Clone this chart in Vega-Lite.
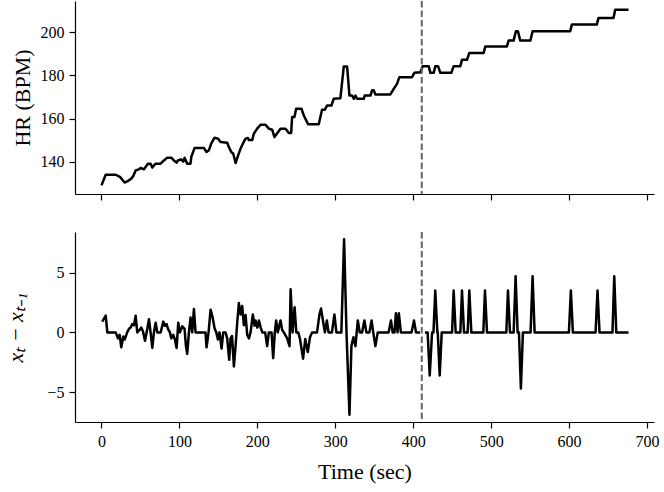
{
  "$schema": "https://vega.github.io/schema/vega-lite/v6.json",
  "padding": {"left": 4, "top": 0, "right": 4, "bottom": 5},
  "bounds": "flush",
  "spacing": 38,
  "config": {
    "font": "Liberation Serif",
    "view": {"stroke": null},
    "axis": {
      "grid": false,
      "domainColor": "black",
      "domainWidth": 1.2,
      "tickColor": "black",
      "tickWidth": 1.2,
      "tickSize": 6,
      "labelPadding": 5,
      "labelFont": "Liberation Serif",
      "labelFontSize": 16,
      "labelColor": "black",
      "titleFont": "Liberation Serif",
      "titleFontSize": 22,
      "titleFontWeight": "normal",
      "titleColor": "black"
    }
  },
  "datasets": {
    "hr": [
      {"t": 0, "hr": 129.2}, {"t": 5.4, "hr": 134.1}, {"t": 18.2, "hr": 134.1}, {"t": 23.7, "hr": 133.1},
      {"t": 29.7, "hr": 130.5}, {"t": 33, "hr": 131}, {"t": 38.2, "hr": 132.3}, {"t": 40.8, "hr": 133.5},
      {"t": 43.8, "hr": 136.1}, {"t": 48, "hr": 136.6}, {"t": 50.2, "hr": 137.2}, {"t": 54.5, "hr": 136.6},
      {"t": 59.6, "hr": 139.2}, {"t": 63, "hr": 139.2}, {"t": 65.2, "hr": 137.4}, {"t": 67.3, "hr": 138.4},
      {"t": 69.5, "hr": 139.2}, {"t": 75.9, "hr": 139.2}, {"t": 80.1, "hr": 140.7}, {"t": 84.4, "hr": 142.0},
      {"t": 89.5, "hr": 142.0}, {"t": 92.9, "hr": 140.7}, {"t": 96.4, "hr": 139.7}, {"t": 98, "hr": 140.7},
      {"t": 102.3, "hr": 141.2}, {"t": 104.9, "hr": 140.2}, {"t": 106.6, "hr": 141.9}, {"t": 110, "hr": 139.2},
      {"t": 114.3, "hr": 139.2}, {"t": 115.2, "hr": 142.3}, {"t": 119.5, "hr": 146.5}, {"t": 131.4, "hr": 146.5},
      {"t": 134.8, "hr": 144.6}, {"t": 137.8, "hr": 145.4}, {"t": 140.8, "hr": 148.5}, {"t": 145.1, "hr": 151.2},
      {"t": 149.4, "hr": 150.8}, {"t": 152.8, "hr": 149.2}, {"t": 161.3, "hr": 148.9}, {"t": 163.5, "hr": 146.9},
      {"t": 166.5, "hr": 144.6}, {"t": 169.1, "hr": 143.8}, {"t": 172.1, "hr": 139.5}, {"t": 175.1, "hr": 142.8},
      {"t": 178.5, "hr": 146.2}, {"t": 181.9, "hr": 148.8}, {"t": 184.9, "hr": 150.8}, {"t": 187.9, "hr": 151.1},
      {"t": 189.2, "hr": 150.1}, {"t": 193.4, "hr": 150.1}, {"t": 195.5, "hr": 153.1}, {"t": 199.8, "hr": 155.4},
      {"t": 204.1, "hr": 157.2}, {"t": 210.5, "hr": 157.2}, {"t": 214.7, "hr": 155.4}, {"t": 219, "hr": 154.9},
      {"t": 222, "hr": 151.5}, {"t": 225, "hr": 153}, {"t": 229.7, "hr": 155.4}, {"t": 236.2, "hr": 155.4},
      {"t": 240.4, "hr": 153.4}, {"t": 243.4, "hr": 153.4}, {"t": 244.6, "hr": 160.8}, {"t": 247.6, "hr": 160.8},
      {"t": 249.8, "hr": 164.6}, {"t": 256.6, "hr": 164.6}, {"t": 259.6, "hr": 161.5}, {"t": 265.2, "hr": 157.4},
      {"t": 278.8, "hr": 157.4}, {"t": 283, "hr": 164.1}, {"t": 286.5, "hr": 164.1}, {"t": 289.5, "hr": 166.1},
      {"t": 295, "hr": 166.1}, {"t": 298, "hr": 169.2}, {"t": 306.6, "hr": 169.5}, {"t": 310.9, "hr": 184.1},
      {"t": 315.2, "hr": 184.1}, {"t": 318.2, "hr": 170.7}, {"t": 321.6, "hr": 170.7}, {"t": 323.7, "hr": 169.2},
      {"t": 325.9, "hr": 170.7}, {"t": 328, "hr": 169.2}, {"t": 336.5, "hr": 169.2}, {"t": 337.8, "hr": 170.7},
      {"t": 345.1, "hr": 170.7}, {"t": 347.2, "hr": 173.1}, {"t": 349.4, "hr": 173.1}, {"t": 351.5, "hr": 171.2},
      {"t": 370.7, "hr": 171.2}, {"t": 375, "hr": 173.8}, {"t": 379.2, "hr": 176.1}, {"t": 382.3, "hr": 179.2},
      {"t": 398.5, "hr": 179.2}, {"t": 401.5, "hr": 181.2}, {"t": 409.2, "hr": 181.5}, {"t": 412.2, "hr": 184.3},
      {"t": 419.9, "hr": 184.3}, {"t": 422, "hr": 181.2}, {"t": 426.3, "hr": 181.2}, {"t": 428.4, "hr": 184.3},
      {"t": 431.9, "hr": 184.3}, {"t": 434.8, "hr": 181.2}, {"t": 448.9, "hr": 181.2}, {"t": 451.9, "hr": 184.3},
      {"t": 460.5, "hr": 184.3}, {"t": 462.6, "hr": 187.2}, {"t": 469, "hr": 187.2}, {"t": 472, "hr": 190.4},
      {"t": 490.4, "hr": 190.4}, {"t": 492.5, "hr": 193.4}, {"t": 520.3, "hr": 193.4}, {"t": 522.4, "hr": 196.1},
      {"t": 528.8, "hr": 196.1}, {"t": 531.8, "hr": 200.4}, {"t": 534.4, "hr": 200.4}, {"t": 537.4, "hr": 196.1},
      {"t": 550.3, "hr": 196.1}, {"t": 553.2, "hr": 200.4}, {"t": 601.5, "hr": 200.4}, {"t": 603.6, "hr": 203.5},
      {"t": 635.6, "hr": 203.5}, {"t": 637.8, "hr": 206.6}, {"t": 657, "hr": 206.6}, {"t": 659.2, "hr": 210.3},
      {"t": 676.3, "hr": 210.3}
    ],
    "diff": [
      {"t": 1, "d": 0.9, "seg": 1}, {"t": 5.4, "d": 1.4, "seg": 1}, {"t": 7.5, "d": 0, "seg": 1}, {"t": 18.2, "d": 0, "seg": 1},
      {"t": 21.2, "d": -0.5, "seg": 1}, {"t": 23.3, "d": -0.2, "seg": 1}, {"t": 25.4, "d": -1.25, "seg": 1}, {"t": 28, "d": -0.35, "seg": 1},
      {"t": 29.7, "d": -0.6, "seg": 1}, {"t": 33, "d": 0, "seg": 1}, {"t": 35.3, "d": 0.3, "seg": 1}, {"t": 37.4, "d": 0.4, "seg": 1},
      {"t": 39.5, "d": 0.7, "seg": 1}, {"t": 41.7, "d": 0.6, "seg": 1}, {"t": 43.8, "d": 1.4, "seg": 1}, {"t": 45.9, "d": 0, "seg": 1},
      {"t": 48.9, "d": 0.2, "seg": 1}, {"t": 51, "d": 0.4, "seg": 1}, {"t": 53.2, "d": 0.1, "seg": 1}, {"t": 55.8, "d": -0.7, "seg": 1},
      {"t": 58.8, "d": 0.3, "seg": 1}, {"t": 60.9, "d": 1.1, "seg": 1}, {"t": 63, "d": 0, "seg": 1}, {"t": 65.2, "d": -1.3, "seg": 1},
      {"t": 67.3, "d": 0, "seg": 1}, {"t": 69.5, "d": 0.8, "seg": 1}, {"t": 71.6, "d": 0, "seg": 1}, {"t": 75.9, "d": 0, "seg": 1},
      {"t": 79.3, "d": 0.9, "seg": 1}, {"t": 81.4, "d": 0.55, "seg": 1}, {"t": 83.5, "d": 0.7, "seg": 1}, {"t": 85.3, "d": 0.3, "seg": 1},
      {"t": 87.8, "d": 0, "seg": 1}, {"t": 89.5, "d": -0.5, "seg": 1}, {"t": 92, "d": -0.2, "seg": 1}, {"t": 94.2, "d": -0.6, "seg": 1},
      {"t": 96.4, "d": -1.3, "seg": 1}, {"t": 98.5, "d": 0.8, "seg": 1}, {"t": 100.6, "d": 0, "seg": 1}, {"t": 103.6, "d": 0.5, "seg": 1},
      {"t": 106.6, "d": 0.3, "seg": 1}, {"t": 108.3, "d": -1.1, "seg": 1}, {"t": 110, "d": -1.8, "seg": 1}, {"t": 112.2, "d": 0, "seg": 1},
      {"t": 114.3, "d": 1.25, "seg": 1}, {"t": 116.4, "d": 0, "seg": 1}, {"t": 118.6, "d": 1.95, "seg": 1}, {"t": 120.7, "d": 0, "seg": 1},
      {"t": 133.5, "d": 0, "seg": 1}, {"t": 134.8, "d": -1.25, "seg": 1}, {"t": 137.4, "d": 0, "seg": 1}, {"t": 140, "d": 1.9, "seg": 1},
      {"t": 142.6, "d": 1.25, "seg": 1}, {"t": 145.1, "d": 0.35, "seg": 1}, {"t": 147.3, "d": 0, "seg": 1}, {"t": 149.4, "d": -0.6, "seg": 1},
      {"t": 151.5, "d": 0, "seg": 1}, {"t": 154.1, "d": -1.35, "seg": 1}, {"t": 156.2, "d": 0, "seg": 1}, {"t": 159.2, "d": 0, "seg": 1},
      {"t": 161.3, "d": -0.5, "seg": 1}, {"t": 163.9, "d": -2.3, "seg": 1}, {"t": 165.6, "d": -0.5, "seg": 1}, {"t": 167.5, "d": -0.3, "seg": 1},
      {"t": 169.9, "d": -2.85, "seg": 1}, {"t": 172.1, "d": -1.1, "seg": 1}, {"t": 174.2, "d": 0.85, "seg": 1}, {"t": 176.3, "d": 2.45, "seg": 1},
      {"t": 178.5, "d": 1.5, "seg": 1}, {"t": 180.6, "d": 2.2, "seg": 1}, {"t": 182.7, "d": 0.6, "seg": 1}, {"t": 184.9, "d": 1.45, "seg": 1},
      {"t": 187, "d": -0.2, "seg": 1}, {"t": 189.2, "d": -0.5, "seg": 1}, {"t": 191.3, "d": 0, "seg": 1}, {"t": 194.2, "d": 1.5, "seg": 1},
      {"t": 196.4, "d": 0.55, "seg": 1}, {"t": 197.8, "d": 1.0, "seg": 1}, {"t": 200, "d": 0.4, "seg": 1}, {"t": 202.1, "d": 1.0, "seg": 1},
      {"t": 204.3, "d": 0.4, "seg": 1}, {"t": 206.4, "d": 0, "seg": 1}, {"t": 210, "d": 0, "seg": 1}, {"t": 212.6, "d": -1.15, "seg": 1},
      {"t": 214.7, "d": 0, "seg": 1}, {"t": 218.2, "d": 0, "seg": 1}, {"t": 220.3, "d": -2.15, "seg": 1}, {"t": 222.4, "d": 0, "seg": 1},
      {"t": 224.1, "d": 1.0, "seg": 1}, {"t": 226.2, "d": 0, "seg": 1}, {"t": 229.7, "d": 1.0, "seg": 1}, {"t": 231.9, "d": 0.2, "seg": 1},
      {"t": 234, "d": 0, "seg": 1}, {"t": 238.3, "d": -0.5, "seg": 1}, {"t": 241.3, "d": -1.15, "seg": 1}, {"t": 242.7, "d": 3.6, "seg": 1},
      {"t": 245.2, "d": 0, "seg": 1}, {"t": 247.8, "d": 2.1, "seg": 1}, {"t": 250, "d": 0, "seg": 1}, {"t": 252.5, "d": 0, "seg": 1},
      {"t": 254.7, "d": -0.55, "seg": 1}, {"t": 258.7, "d": -2.2, "seg": 1}, {"t": 261.5, "d": -0.55, "seg": 1}, {"t": 264.7, "d": -1.65, "seg": 1},
      {"t": 267.6, "d": -0.4, "seg": 1}, {"t": 270.2, "d": 0, "seg": 1}, {"t": 276.6, "d": 0, "seg": 1}, {"t": 279.7, "d": 1.5, "seg": 1},
      {"t": 281.7, "d": 2.0, "seg": 1}, {"t": 284.5, "d": 0.85, "seg": 1}, {"t": 286.7, "d": 0, "seg": 1}, {"t": 289.2, "d": 1.0, "seg": 1},
      {"t": 291.4, "d": 0, "seg": 1}, {"t": 295.7, "d": 0, "seg": 1}, {"t": 298.9, "d": 1.5, "seg": 1}, {"t": 301.4, "d": 0, "seg": 1},
      {"t": 307.8, "d": 0, "seg": 1}, {"t": 311.3, "d": 7.8, "seg": 1}, {"t": 314.4, "d": 0, "seg": 1}, {"t": 318.2, "d": -6.9, "seg": 1},
      {"t": 320.7, "d": -1.15, "seg": 1}, {"t": 323.3, "d": -0.4, "seg": 1}, {"t": 325.9, "d": -1.15, "seg": 1}, {"t": 328.9, "d": 1.0, "seg": 1},
      {"t": 331.4, "d": 0, "seg": 1}, {"t": 334.4, "d": 0, "seg": 1}, {"t": 337.4, "d": 1.0, "seg": 1}, {"t": 339.9, "d": 0, "seg": 1},
      {"t": 343.8, "d": 0, "seg": 1}, {"t": 346.6, "d": 1.0, "seg": 1}, {"t": 348.7, "d": 0, "seg": 1}, {"t": 351.5, "d": -1.15, "seg": 1},
      {"t": 354.5, "d": 0, "seg": 1}, {"t": 368.4, "d": 0, "seg": 1}, {"t": 371.5, "d": 1.0, "seg": 1}, {"t": 373.6, "d": 0, "seg": 1},
      {"t": 376, "d": 0, "seg": 1}, {"t": 377.8, "d": 1.6, "seg": 1}, {"t": 379.9, "d": 0, "seg": 1}, {"t": 381.6, "d": 1.6, "seg": 1},
      {"t": 384.2, "d": 0, "seg": 1}, {"t": 397.9, "d": 0, "seg": 1}, {"t": 401, "d": 1.0, "seg": 1}, {"t": 403.6, "d": 0, "seg": 1},
      {"t": 408.7, "d": 0, "seg": 1},
      {"t": 415, "d": 0, "seg": 2}, {"t": 418.5, "d": 0, "seg": 2}, {"t": 421.2, "d": -3.6, "seg": 2}, {"t": 424.2, "d": 0, "seg": 2},
      {"t": 426, "d": 0, "seg": 2}, {"t": 428.3, "d": 3.5, "seg": 2}, {"t": 431, "d": 0, "seg": 2}, {"t": 431.5, "d": 0, "seg": 2},
      {"t": 434, "d": -3.6, "seg": 2}, {"t": 436.6, "d": 0, "seg": 2}, {"t": 449.9, "d": 0, "seg": 2}, {"t": 451.9, "d": 3.5, "seg": 2},
      {"t": 454.5, "d": 0, "seg": 2}, {"t": 460.5, "d": 0, "seg": 2}, {"t": 462.6, "d": 3.5, "seg": 2}, {"t": 465.2, "d": 0, "seg": 2},
      {"t": 469.9, "d": 0, "seg": 2}, {"t": 472, "d": 3.5, "seg": 2}, {"t": 474.6, "d": 0, "seg": 2}, {"t": 490, "d": 0, "seg": 2},
      {"t": 492.1, "d": 3.5, "seg": 2}, {"t": 494.7, "d": 0, "seg": 2}, {"t": 519.5, "d": 0, "seg": 2}, {"t": 521.6, "d": 3.5, "seg": 2},
      {"t": 524.2, "d": 0, "seg": 2}, {"t": 528.9, "d": 0, "seg": 2}, {"t": 531.4, "d": 4.7, "seg": 2}, {"t": 534, "d": 0, "seg": 2},
      {"t": 535.7, "d": 0, "seg": 2}, {"t": 538.2, "d": -4.7, "seg": 2}, {"t": 540.8, "d": 0, "seg": 2}, {"t": 550.6, "d": 0, "seg": 2},
      {"t": 553.2, "d": 4.7, "seg": 2}, {"t": 555.8, "d": 0, "seg": 2}, {"t": 599.8, "d": 0, "seg": 2}, {"t": 602.3, "d": 3.5, "seg": 2},
      {"t": 604.9, "d": 0, "seg": 2}, {"t": 634, "d": 0, "seg": 2}, {"t": 636.5, "d": 3.5, "seg": 2}, {"t": 639.1, "d": 0, "seg": 2},
      {"t": 655.7, "d": 0, "seg": 2}, {"t": 658, "d": 4.7, "seg": 2}, {"t": 660.6, "d": 0, "seg": 2}, {"t": 676.3, "d": 0, "seg": 2}
    ],
    "split": [{"t": 411}]
  },
  "vconcat": [
    {
      "width": 579,
      "height": 193,
      "layer": [
        {
          "data": {"name": "hr"},
          "mark": {"type": "line", "color": "black", "strokeWidth": 2.5, "strokeJoin": "round"},
          "encoding": {
            "x": {"field": "t", "type": "quantitative",
                  "scale": {"domain": [-34, 709], "nice": false, "zero": false},
                  "axis": {"values": [0, 100, 200, 300, 400, 500, 600, 700], "labels": false, "title": null}},
            "y": {"field": "hr", "type": "quantitative",
                  "scale": {"domain": [125.2, 214.4], "nice": false, "zero": false},
                  "axis": {"values": [140, 160, 180, 200], "title": "HR (BPM)", "minExtent": 38, "maxExtent": 38, "titlePadding": 3}}
          }
        },
        {
          "data": {"name": "split"},
          "mark": {"type": "rule", "color": "#666666", "strokeDash": [6.5, 3], "strokeWidth": 2},
          "encoding": {"x": {"field": "t", "type": "quantitative"}}
        }
      ]
    },
    {
      "width": 579,
      "height": 190,
      "layer": [
        {
          "data": {"name": "diff"},
          "mark": {"type": "line", "color": "black", "strokeWidth": 2.5, "strokeJoin": "round"},
          "encoding": {
            "x": {"field": "t", "type": "quantitative",
                  "scale": {"domain": [-34, 709], "nice": false, "zero": false},
                  "axis": {"values": [0, 100, 200, 300, 400, 500, 600, 700], "title": "Time (sec)", "titlePadding": 12}},
            "y": {"field": "d", "type": "quantitative",
                  "scale": {"domain": [-7.5, 8.4], "nice": false, "zero": false},
                  "axis": {"values": [-5, 0, 5], "title": "xₜ − xₜ₋₁", "titleFontStyle": "italic", "minExtent": 38, "maxExtent": 38, "titlePadding": 10}},
            "detail": {"field": "seg", "type": "nominal"}
          }
        },
        {
          "data": {"name": "split"},
          "mark": {"type": "rule", "color": "#666666", "strokeDash": [6.5, 3], "strokeWidth": 2},
          "encoding": {"x": {"field": "t", "type": "quantitative"}}
        }
      ]
    }
  ]
}
